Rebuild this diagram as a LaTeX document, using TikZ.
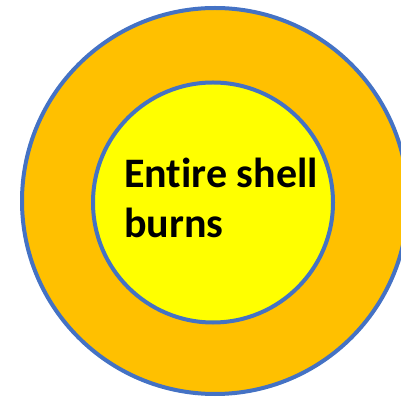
\documentclass[tikz,border=0pt]{standalone}
\usepackage{fontspec}
\setmainfont{Carlito}[Ligatures=NoCommon]
\usetikzlibrary{positioning}

\definecolor{shellorange}{HTML}{FFC000}
\definecolor{coreyellow}{HTML}{FFFF00}
\definecolor{rimblue}{HTML}{4472C4}

\tikzset{
  ring/.style={circle, draw=rimblue, line width=4pt, inner sep=0pt}
}

\begin{document}
\begin{tikzpicture}[x=1pt,y=1pt]
\useasboundingbox (0,0) rectangle (401,396);
\clip (0,0) rectangle (401,396);

\node[ring, fill=shellorange, minimum size=386pt] (shell) at (215,195) {};
\node[ring, fill=coreyellow, minimum size=240pt] (core) at (213,193.5) {};

\node[anchor=base west, inner sep=0pt, align=left, font=\bfseries\fontsize{42}{50}\selectfont]
  (label) at (124,158) {Entire shell\\burns};
\end{tikzpicture}
\end{document}
